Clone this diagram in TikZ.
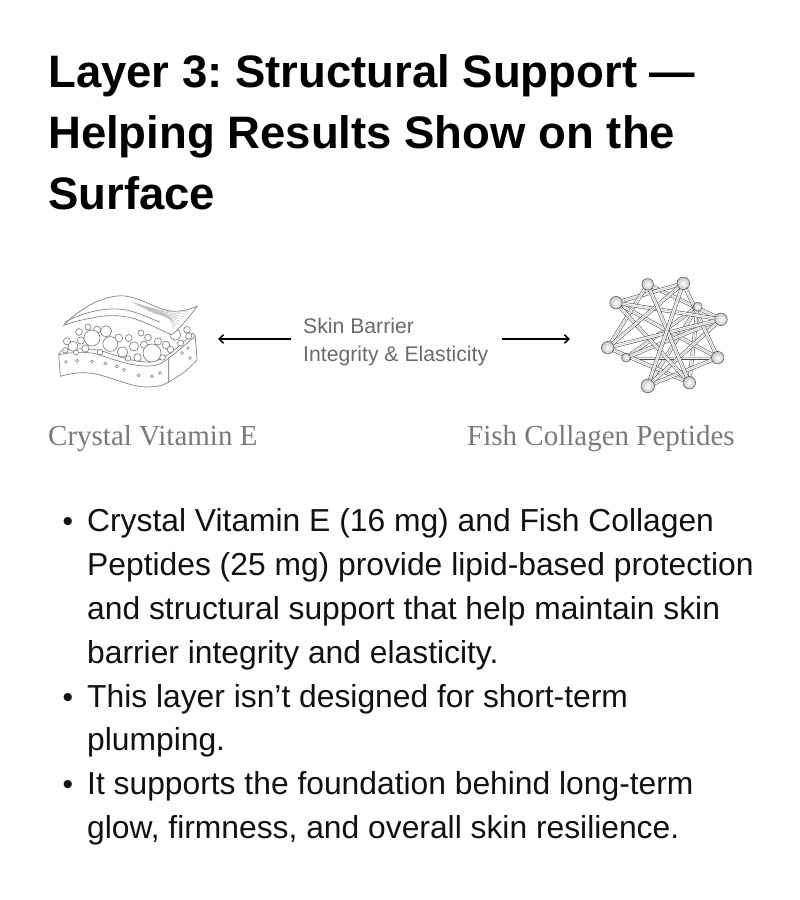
\documentclass[tikz,border=0pt]{standalone}
\usepackage{fontspec}
\usetikzlibrary{arrows.meta,shadings}
\newfontfamily\sansf{Liberation Sans}
\newfontfamily\seriff{Liberation Serif}
\definecolor{labgray}{HTML}{6B6B6B}
\definecolor{capgray}{HTML}{7A7A7A}
\definecolor{inkgray}{HTML}{7E7E7E}
\definecolor{bodyink}{HTML}{111111}
\tikzset{
  titletext/.style={anchor=base west,inner sep=0pt,font=\sansf\bfseries\fontsize{45.5bp}{54bp}\selectfont\frenchspacing,text=black},
  bodytext/.style={anchor=base west,inner sep=0pt,font=\sansf\fontsize{31.8bp}{38bp}\selectfont\frenchspacing,text=bodyink},
  bullettext/.style={anchor=base,inner sep=0pt,font=\sansf\fontsize{30bp}{38bp}\selectfont,text=bodyink},
  midtext/.style={anchor=base west,inner sep=0pt,font=\sansf\fontsize{21.2bp}{24bp}\selectfont,text=labgray},
  captext/.style={anchor=base west,inner sep=0pt,font=\seriff\fontsize{29bp}{34bp}\selectfont,text=capgray},
  arrowline/.style={line width=1.5bp,-{Straight Barb[length=4.5bp,width=8.5bp,line width=1.5bp]}},
  skinline/.style={draw=inkgray,line width=0.65bp},
  cell/.style={skinline,fill=white},
  tube/.style={draw=gray!55!black,line width=0.5bp,double=gray!6,double distance=2.8bp},
  tubecore/.style={draw=gray!55,line width=0.45bp},
  atom/.style={circle,draw=gray!60!black,line width=0.5bp,inner color=white,outer color=gray!45,inner sep=0pt},
}
\begin{document}
\begin{tikzpicture}[x=1bp,y=-1bp]
\useasboundingbox (0,0) rectangle (800,900);
\fill[white] (0,0) rectangle (800,900);

% title
\node[titletext] (t1) at (48,87) {Layer 3: Structural Support —};
\node[titletext] (t2) at (48,148) {Helping Results Show on the};
\node[titletext] (t3) at (48,209) {Surface};

% ---------- skin layer illustration ----------
% slab
\draw[skinline,fill=white] (58.7,354.7) .. controls (72,352) and (88,351) .. (100,355)
  .. controls (115,360) and (130,366) .. (148,366)
  .. controls (160,366) and (165,361) .. (168.7,358)
  -- (168.7,382)
  .. controls (163,386) and (155,387) .. (145,387)
  .. controls (128,386) and (110,376) .. (90,373)
  .. controls (78,372) and (68,374) .. (60.3,376.3) -- cycle;
\draw[skinline,fill=white] (168.7,358) .. controls (180,350) and (188,342) .. (195.3,336.3)
  -- (197,360) .. controls (190,368) and (180,376) .. (168.7,382) -- cycle;
\draw[skinline] (58.7,354.7) -- (61,351) .. controls (75,348) and (90,348) .. (102,351)
  .. controls (118,356) and (132,362) .. (150,362)
  .. controls (165,361) and (180,345) .. (193,333) -- (195.3,336.3);
% pores
\foreach \p in {(77,360.7),(92,361.5),(105.3,363.5),(117,366.3),(124,369.7),(138.7,375.3),(152,376.3),(66,362),(182,353),(188,348),(190,358),(160,373)}
  \draw[skinline,line width=0.5bp] \p circle[radius=1.6bp];

% cells
\foreach \x/\y/\r in {
  65.3/350.3/2.8, 67/341.3/3.6, 73/346.3/5, 81/340.5/3.6, 85.3/348.5/3.6,
  79/332/3.4, 97/329.7/3.6, 106/331.3/5.6, 92/338/8, 118.7/338/4,
  110.3/344/7.4, 122.5/352/5.2, 128.7/338/3.5, 134/346.3/4.6, 137.5/357.5/3.8,
  144/344.7/3.6, 128/358.5/2.8, 148/337.5/3.4, 158/341.5/3.6, 166/345/3.8,
  152/353/9, 175.3/334.7/5.5, 187/329.7/3.3, 188.7/336/3.1, 170.5/349.5/3.3, 180.5/343/3.1,
  100/352/2.8, 76/352.5/2.5, 162.5/357.5/2.8, 88/327/3, 141/333/3}
  \draw[cell] (\x,\y) circle[radius=\r bp];

% peeled sheet
\draw[skinline,fill=white] (63.7,325.3)
  .. controls (72,316) and (84,308) .. (93.7,303)
  .. controls (105,298) and (115,295) .. (125,296)
  .. controls (140,298) and (152,306) .. (165,310)
  .. controls (178,313) and (188,310) .. (197,306.3)
  .. controls (190,316) and (182,326) .. (172,334.7)
  .. controls (162,331) and (150,324) .. (138,320)
  .. controls (122,314) and (105,315) .. (92,318)
  .. controls (80,320) and (70,323) .. (63.7,325.3) -- cycle;
\draw[skinline] (65,322) .. controls (80,314) and (100,308) .. (118,309)
  .. controls (135,310) and (148,318) .. (160,322);
\foreach \k in {1,...,8}
  \draw[draw=inkgray!70,line width=0.35bp] (128+3*\k,300+1.6*\k) .. controls (150+3*\k,308+1.2*\k) and (170,313+0.8*\k) .. (190-2*\k,309+2.5*\k);

% ---------- center label and arrows ----------
\node[midtext] (m1) at (303,333) {Skin Barrier};
\node[midtext] (m2) at (303,361) {Integrity \& Elasticity};
\coordinate (la) at (291,339);
\coordinate (lb) at (218,339);
\coordinate (ra) at (502,339);
\coordinate (rb) at (570,339);
\draw[arrowline] (la) -- (lb);
\draw[arrowline] (ra) -- (rb);

% ---------- collagen network ----------
\coordinate (a) at (647.7,284.3);
\coordinate (b) at (683.3,283.3);
\coordinate (c) at (616,302.7);
\coordinate (d) at (697.7,306.7);
\coordinate (e) at (721,319.3);
\coordinate (f) at (607.7,347.7);
\coordinate (g) at (626,357.7);
\coordinate (h) at (717.7,357.7);
\coordinate (i) at (647.7,386);
\coordinate (j) at (689.3,382.7);
\foreach \u/\v in {d/g,d/i,j/d,a/e,b/c,g/h,c/h,f/j,a/f,h/i,e/g,e/i,c/j,b/h,f/e,c/e,b/f,a/j,b/i}{
  \draw[tube] (\u) -- (\v);
  \draw[tubecore] (\u) -- (\v);}
\node[atom,minimum size=9bp] (nd) at (d) {};
\node[atom,minimum size=9bp] (ng) at (g) {};
\node[atom,minimum size=11.5bp] (na) at (a) {};
\node[atom,minimum size=12.5bp] (nb) at (b) {};
\node[atom,minimum size=12.5bp] (nc) at (c) {};
\node[atom,minimum size=12.5bp] (ne) at (e) {};
\node[atom,minimum size=12.5bp] (nf) at (f) {};
\node[atom,minimum size=12.5bp] (nh) at (h) {};
\node[atom,minimum size=13.5bp] (ni) at (i) {};
\node[atom,minimum size=12.5bp] (nj) at (j) {};

% captions
\node[captext] (c1) at (48,445) {Crystal Vitamin E};
\node[captext] (c2) at (467,445) {Fish Collagen Peptides};

% bullets
\node[bullettext] (b1) at (68,531) {•};
\node[bodytext] (l1) at (87,531) {Crystal Vitamin E (16 mg) and Fish Collagen};
\node[bodytext] (l2) at (87,575) {Peptides (25 mg) provide lipid-based protection};
\node[bodytext] (l3) at (87,619) {and structural support that help maintain skin};
\node[bodytext] (l4) at (87,663) {barrier integrity and elasticity.};
\node[bullettext] (b2) at (68,707) {•};
\node[bodytext] (l5) at (87,707) {This layer isn’t designed for short-term};
\node[bodytext] (l6) at (87,750) {plumping.};
\node[bullettext] (b3) at (68,794) {•};
\node[bodytext] (l7) at (87,794) {It supports the foundation behind long-term};
\node[bodytext] (l8) at (87,838) {glow, firmness, and overall skin resilience.};
\end{tikzpicture}
\end{document}
